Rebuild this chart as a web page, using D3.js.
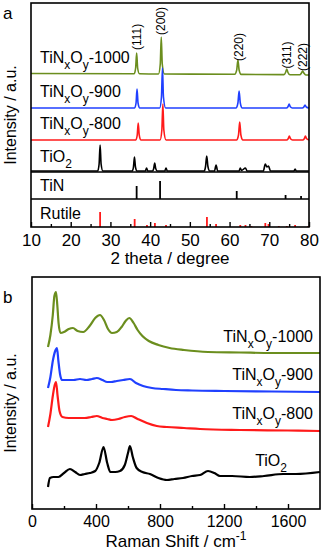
<!DOCTYPE html>
<html>
<head>
<meta charset="utf-8">
<script src="https://cdn.jsdelivr.net/npm/d3@7"></script>
<style>
  body { margin: 0; background: #fff; }
  svg { display: block; }
  text { font-family: "Liberation Sans", Arial, sans-serif; fill: #000; }
</style>
</head>
<body>
<svg id="chart" width="322" height="553"></svg>
<script>
// ---------- panel a : XRD ----------
const xrdTicks = [10, 20, 30, 40, 50, 60, 70, 80];
const xrdMinor = [15, 25, 35, 45, 55, 65, 75];

// [2theta, intensity above own baseline]
const xrd1000 = [[10, 0.5], [36.0, 0.3], [36.35, 6], [36.6, 21], [36.85, 6], [37.3, 0.2],
  [42.1, 0], [42.55, 10], [42.8, 37], [43.05, 10], [43.6, 0],
  [61.3, -0.2], [61.8, 4], [62.1, 14], [62.4, 4], [62.9, -0.4],
  [73.7, -0.6], [74.1, 1.5], [74.4, 5], [74.7, 1.5], [75.2, -0.8],
  [77.7, -0.8], [78.1, 1], [78.4, 3], [78.7, 1], [79.2, -1], [80, -1]];
const xrd900 = [[10, 0], [36.1, 0], [36.45, 5], [36.7, 19], [36.95, 5], [37.4, 0],
  [42.4, 0], [42.85, 11], [43.1, 40], [43.35, 11], [43.9, 0],
  [61.6, 0], [62.1, 5], [62.4, 17], [62.7, 5], [63.2, 0],
  [74.3, 0], [74.7, 1.2], [75.0, 4], [75.3, 1.2], [75.8, 0],
  [78.3, 0], [78.7, 1], [79.0, 3], [79.3, 1], [80, 0]];
const xrd800 = [[10, 0], [36.4, 0], [36.75, 5], [37.0, 17], [37.25, 5], [37.7, 0],
  [42.5, 0], [42.95, 10], [43.2, 36], [43.45, 10], [44.0, 0],
  [61.75, 0], [62.25, 5], [62.55, 18], [62.85, 5], [63.35, 0],
  [74.35, 0], [74.75, 1.2], [75.05, 4], [75.35, 1.2], [75.85, 0],
  [78.4, 0], [78.8, 1.2], [79.1, 4], [79.4, 1.2], [80, 0]];
const xrdTiO2 = [[10, 0], [26.8, 0], [27.15, 7], [27.4, 26], [27.65, 7], [28.1, 0],
  [35.5, 0], [35.8, 4], [36.05, 14], [36.3, 4], [36.7, 0],
  [38.8, 0], [39.1, 3], [39.4, 0],
  [40.6, 0], [40.9, 2.5], [41.15, 8], [41.4, 2.5], [41.8, 0],
  [43.7, 0], [44.0, 3], [44.3, 0],
  [53.6, 0], [53.95, 4.5], [54.25, 15], [54.55, 4.5], [55.0, 0],
  [56.2, 0], [56.6, 6], [57.0, 0],
  [62.4, 0], [62.7, 3], [63.0, 0.5], [64.0, 3], [64.4, 0],
  [68.5, 0], [69.0, 7], [69.4, 4], [69.8, 5], [70.3, 0],
  [76.2, 0], [76.5, 2], [76.8, 0], [80, 0]];
// reference sticks [2theta, height]
const sticksTiN = [[36.6, 13], [42.5, 18], [61.8, 8], [74.1, 4], [78.0, 3]];
const sticksRutile = [[27.4, 15], [36.1, 8], [39.2, 2], [41.2, 4], [44.0, 2], [54.3, 10],
  [56.6, 3], [62.7, 2], [64.0, 2], [65.5, 1], [69.0, 4], [69.8, 3], [72.4, 1],
  [74.4, 1], [76.5, 2], [79.8, 1]];

const xrdOffsets = [153, 119, 87, 56];
const xrdNames = ['1000', '900', '800'];
const hklLabels = ['(111)', '(200)', '(220)', '(311)', '(222)'];
const hklPos = [[36.6, 190], [42.8, 206], [62.2, 180], [74.4, 172], [78.4, 170]];

// ---------- panel b : Raman ----------
const ramanTicks = [0, 400, 800, 1200, 1600];
const ramanMinor = [200, 600, 1000, 1400];
const raman1000 = [[100, 162], [115, 174], [130, 194], [140, 213], [150, 217], [158, 204], [166, 186],
  [178, 176], [200, 177], [230, 180], [256, 181], [285, 178], [320, 177], [360, 183], [395, 191],
  [425, 194], [450, 189], [475, 180], [500, 176], [530, 177], [560, 182], [585, 188], [608, 191],
  [635, 186], [660, 179], [690, 173], [730, 168], [790, 164], [860, 161], [950, 159], [1100, 157],
  [1300, 156.5], [1500, 156], [1800, 156]];
const raman900 = [[100, 121], [115, 132], [130, 148], [145, 158], [156, 161], [165, 148], [175, 135],
  [187, 129], [220, 129], [260, 129], [300, 130], [340, 129], [375, 130], [405, 131], [440, 129],
  [470, 127], [494, 127], [530, 128], [570, 129], [612, 130], [650, 126], [694, 123], [750, 121],
  [820, 120], [900, 119], [1000, 118.5], [1200, 118], [1500, 117.5], [1800, 117]];
const raman800 = [[100, 82], [115, 95], [130, 113], [142, 124], [150, 127], [160, 113], [172, 98],
  [190, 92], [230, 91], [280, 91], [330, 91], [370, 92], [405, 93], [440, 91], [470, 90], [500, 89],
  [540, 90], [580, 92], [620, 93], [660, 90], [718, 86], [780, 83], [843, 82], [950, 81],
  [1050, 80], [1300, 79], [1600, 78.5], [1800, 78]];
const ramanTiO2 = [[100, 22], [112, 31], [135, 32], [165, 32], [200, 36], [237, 40], [270, 37],
  [300, 34], [330, 35], [362, 36], [395, 38], [420, 46], [447, 62], [470, 46], [490, 37],
  [520, 37], [550, 38], [580, 44], [600, 56], [612, 63], [630, 52], [654, 41], [690, 37],
  [737, 35], [790, 31], [843, 29], [890, 30], [944, 31], [1000, 33], [1050, 34], [1100, 38],
  [1140, 36], [1175, 33], [1250, 33], [1362, 32], [1450, 33], [1570, 35], [1650, 35], [1800, 37]];
const ramanLabelY = [167, 129, 90, 43];

const colors = ['#6b8e1e', '#2040ff', '#ff1a1a', '#000000'];

const svg = d3.select('#chart');

// text with subscripts; parts = [[string, isSub], ...]
function label(g, x, y, parts, anchor, size) {
  const t = g.append('text').attr('x', x).attr('y', y)
    .attr('text-anchor', anchor).style('font-size', size + 'px');
  let shifted = false;
  for (const [s, sub] of parts) {
    const ts = t.append('tspan').text(s);
    if (sub) {
      ts.style('font-size', (size - 4) + 'px');
      if (!shifted) ts.attr('dy', 6);
      shifted = true;
    } else if (shifted) {
      ts.attr('dy', -6);
      shifted = false;
    }
  }
  return t;
}
const sampleParts = n => [['TiN'], ['x', 1], ['O'], ['y', 1], ['-' + n]];
const tio2Parts = [['TiO'], ['2', 1]];

// ---- panel a ----
const xA = d3.scaleLinear().domain([10, 80]).range([31, 309]);
const yA = d3.scaleLinear().domain([0, 224]).range([227, 3]);
const gA = svg.append('g');

const lineA = offset => d3.line()
  .x(d => xA(d[0]))
  .y(d => yA(d[1] + offset))
  .curve(d3.curveMonotoneX);

[xrd1000, xrd900, xrd800, xrdTiO2].forEach((s, i) => {
  gA.append('path').datum(s)
    .attr('d', lineA(xrdOffsets[i]))
    .attr('fill', 'none')
    .attr('stroke', colors[i])
    .attr('stroke-width', 1.6);
});

gA.selectAll('.tin').data(sticksTiN).join('line')
  .attr('x1', d => xA(d[0])).attr('x2', d => xA(d[0]))
  .attr('y1', yA(28)).attr('y2', d => yA(28 + d[1]))
  .attr('stroke', '#000').attr('stroke-width', 1.8);
gA.selectAll('.rut').data(sticksRutile).join('line')
  .attr('x1', d => xA(d[0])).attr('x2', d => xA(d[0]))
  .attr('y1', yA(0)).attr('y2', d => yA(d[1]))
  .attr('stroke', '#ff1a1a').attr('stroke-width', 1.8);

// separators
[55, 28].forEach(v => {
  gA.append('line').attr('x1', xA(10)).attr('x2', xA(80))
    .attr('y1', yA(v)).attr('y2', yA(v))
    .attr('stroke', '#000').attr('stroke-width', 1.4);
});

const axA = gA.append('g').attr('transform', `translate(0,${yA(0)})`)
  .call(d3.axisBottom(xA).tickValues(xrdTicks).tickSize(-5).tickPadding(7));
axA.select('.domain').remove();
axA.selectAll('.tick line').attr('stroke-width', 1.4);
axA.selectAll('text').style('font-size', '17px').attr('fill', '#000');
gA.append('g').attr('transform', `translate(0,${yA(0)})`)
  .call(d3.axisBottom(xA).tickValues(xrdMinor).tickSize(-3).tickFormat(''))
  .call(g => g.select('.domain').remove())
  .selectAll('line').attr('stroke-width', 1.4);

gA.append('rect').attr('x', xA(10)).attr('y', yA(224))
  .attr('width', xA(80) - xA(10)).attr('height', yA(0) - yA(224))
  .attr('fill', 'none').attr('stroke', '#000').attr('stroke-width', 1.6);

xrdNames.forEach((n, i) => label(gA, 40, yA(xrdOffsets[i] + 11), sampleParts(n), 'start', 16));
label(gA, 40, yA(xrdOffsets[3] + 9), tio2Parts, 'start', 16);
gA.append('text').attr('x', 40).attr('y', yA(36)).style('font-size', '16px').text('TiN');
gA.append('text').attr('x', 40).attr('y', yA(8)).style('font-size', '16px').text('Rutile');

hklLabels.forEach((t, i) => {
  gA.append('text')
    .attr('transform', `translate(${xA(hklPos[i][0])},${yA(hklPos[i][1])}) rotate(-90)`)
    .attr('text-anchor', 'middle').attr('dy', '0.35em')
    .style('font-size', '12px').text(t);
});

gA.append('text').attr('x', (xA(10) + xA(80)) / 2).attr('y', 264)
  .attr('text-anchor', 'middle').style('font-size', '17px').text('2 theta / degree');
gA.append('text').attr('transform', `translate(10,${(yA(0) + yA(224)) / 2}) rotate(-90)`)
  .attr('text-anchor', 'middle').attr('dy', '0.35em').style('font-size', '16px')
  .text('Intensity / a.u.');
gA.append('text').attr('x', 3).attr('y', 19).style('font-size', '17px').text('a');

// ---- panel b ----
const xB = d3.scaleLinear().domain([0, 1800]).range([32, 320]);
const yB = d3.scaleLinear().domain([0, 232]).range([509, 277]);
const gB = svg.append('g');

const lineB = d3.line().x(d => xB(d[0])).y(d => yB(d[1])).curve(d3.curveMonotoneX);
[raman1000, raman900, raman800, ramanTiO2].forEach((s, i) => {
  gB.append('path').datum(s).attr('d', lineB)
    .attr('fill', 'none').attr('stroke', colors[i]).attr('stroke-width', 2.2);
});

const axB = gB.append('g').attr('transform', `translate(0,${yB(0)})`)
  .call(d3.axisBottom(xB).tickValues(ramanTicks).tickSize(-5).tickPadding(7).tickFormat(d3.format('d')));
axB.select('.domain').remove();
axB.selectAll('.tick line').attr('stroke-width', 1.4);
axB.selectAll('text').style('font-size', '16px').attr('fill', '#000');
gB.append('g').attr('transform', `translate(0,${yB(0)})`)
  .call(d3.axisBottom(xB).tickValues(ramanMinor).tickSize(-3).tickFormat(''))
  .call(g => g.select('.domain').remove())
  .selectAll('line').attr('stroke-width', 1.4);

gB.append('rect').attr('x', xB(0)).attr('y', yB(232))
  .attr('width', xB(1800) - xB(0)).attr('height', yB(0) - yB(232))
  .attr('fill', 'none').attr('stroke', '#000').attr('stroke-width', 1.6);

xrdNames.forEach((n, i) => label(gB, 313, yB(ramanLabelY[i]), sampleParts(n), 'end', 16));
label(gB, 287, yB(ramanLabelY[3]), tio2Parts, 'end', 16);

const xt = gB.append('text').attr('x', (xB(0) + xB(1800)) / 2).attr('y', 547)
  .attr('text-anchor', 'middle').style('font-size', '17px');
xt.append('tspan').text('Raman Shift / cm');
xt.append('tspan').attr('dy', -7).style('font-size', '12px').text('-1');

gB.append('text').attr('transform', `translate(10,${(yB(0) + yB(232)) / 2 + 10}) rotate(-90)`)
  .attr('text-anchor', 'middle').attr('dy', '0.35em').style('font-size', '16px')
  .text('Intensity / a.u.');
gB.append('text').attr('x', 3).attr('y', 303).style('font-size', '17px').text('b');
</script>
</body>
</html>
